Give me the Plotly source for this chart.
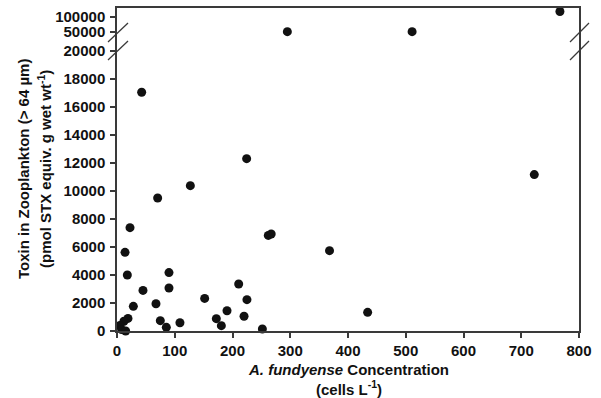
import plotly.graph_objects as go

# Data (cells L^-1, pmol STX equiv. g wet wt^-1)
conc_low = [42.7, 224.5, 127, 70.4, 22.5, 262, 267, 13.9, 368, 17.9, 90, 90, 45,
            210.7, 151.8, 225, 67.5, 28.3, 190.5, 220, 172, 75, 180.7, 109, 85.4,
            251.7, 434, 722.6, 19, 12, 5, 8, 15]
toxin_low = [17050, 12310, 10380, 9500, 7380, 6830, 6930, 5620, 5740, 4000, 4170, 3070, 2900,
             3360, 2330, 2240, 1950, 1760, 1450, 1050, 880, 740, 380, 590, 260,
             140, 1335, 11170, 900, 700, 400, 100, 0]
conc_high = [295, 511, 767]
toxin_high = [50000, 50000, 130000]

x_ticks = [0, 100, 200, 300, 400, 500, 600, 700, 800]
y_ticks_low = [0, 2000, 4000, 6000, 8000, 10000, 12000, 14000, 16000, 18000]
y_ticks_high = [20000, 50000, 100000]

FONT = "Liberation Sans, Arial, sans-serif"
AX = "#3a3a3a"
tickfont = dict(family=FONT, size=15, color="#111")

fig = go.Figure()
fig.add_trace(go.Scatter(x=conc_low, y=toxin_low, mode="markers", xaxis="x", yaxis="y",
                         marker=dict(size=9, color="#111"), cliponaxis=False, showlegend=False))
fig.add_trace(go.Scatter(x=conc_high, y=toxin_high, mode="markers", xaxis="x2", yaxis="y2",
                         marker=dict(size=9, color="#111"), cliponaxis=False, showlegend=False))

split = 280 / 323
fig.update_layout(
    width=601, height=398,
    margin=dict(l=117, r=22, t=8, b=67),
    plot_bgcolor="white", paper_bgcolor="white",
    font=dict(family=FONT, size=15, color="#111"),
    xaxis=dict(range=[0, 800], tickvals=x_ticks, ticktext=[f"<b>{v}</b>" for v in x_ticks],
               showline=True, linecolor=AX, linewidth=1.5, ticks="outside", ticklen=5,
               tickcolor=AX, tickwidth=1.5, showgrid=False, zeroline=False, mirror=False,
               tickfont=tickfont, ticklabelstandoff=0, anchor="y"),
    xaxis2=dict(range=[0, 800], matches="x", anchor="y2", side="top", showline=True,
                linecolor=AX, linewidth=1.5, ticks="", showticklabels=False,
                showgrid=False, zeroline=False),
    yaxis=dict(domain=[0, split], range=[0, 20000], tickvals=y_ticks_low,
               ticktext=[f"<b>{v}</b>" for v in y_ticks_low],
               showline=True, linecolor=AX, linewidth=1.5, mirror=True, ticks="outside",
               ticklen=5, tickcolor=AX, tickwidth=1.5, showgrid=False, zeroline=False,
               tickfont=tickfont, ticklabelstandoff=2, anchor="x"),
    yaxis2=dict(domain=[split, 1], type="log", range=[4.30103, 5.186], tickvals=y_ticks_high,
                ticktext=[f"<b>{v}</b>" for v in y_ticks_high],
                showline=True, linecolor=AX, linewidth=1.5, mirror=True, ticks="outside",
                ticklen=5, tickcolor=AX, tickwidth=1.5, showgrid=False, zeroline=False,
                tickfont=tickfont, ticklabelstandoff=2, anchor="x2"),
)

# axis break marks
def slash(x0, y0, x1, y1):
    fig.add_shape(type="line", xref="paper", yref="paper",
                  x0=(x0 - 117) / 462, x1=(x1 - 117) / 462,
                  y0=(331 - y0) / 323, y1=(331 - y1) / 323,
                  line=dict(color=AX, width=1.3))

slash(108, 42, 128, 23)
slash(108, 60, 128, 41)
slash(570, 42, 589, 23)
slash(570, 60, 589, 41)

fig.add_annotation(xref="paper", yref="paper", x=(23 - 117) / 462, y=(331 - 169) / 323,
                   text="<b>Toxin in Zooplankton (> 64 µm)</b>",
                   textangle=-90, showarrow=False, xanchor="center", yanchor="middle",
                   font=dict(family=FONT, size=15, color="#111"))
fig.add_annotation(xref="paper", yref="paper", x=(44 - 117) / 462, y=(331 - 169) / 323,
                   text="<b>(pmol STX equiv. g wet wt<sup>-1</sup>)</b>",
                   textangle=-90, showarrow=False, xanchor="center", yanchor="middle",
                   font=dict(family=FONT, size=15, color="#111"))
fig.add_annotation(xref="paper", yref="paper", x=0.5, y=(331 - 379) / 323,
                   text="<b><i>A. fundyense</i> Concentration</b><br><b>(cells L<sup>-1</sup>)</b>",
                   showarrow=False, xanchor="center", yanchor="middle",
                   font=dict(family=FONT, size=15, color="#111"))

fig.write_html("out.html")
